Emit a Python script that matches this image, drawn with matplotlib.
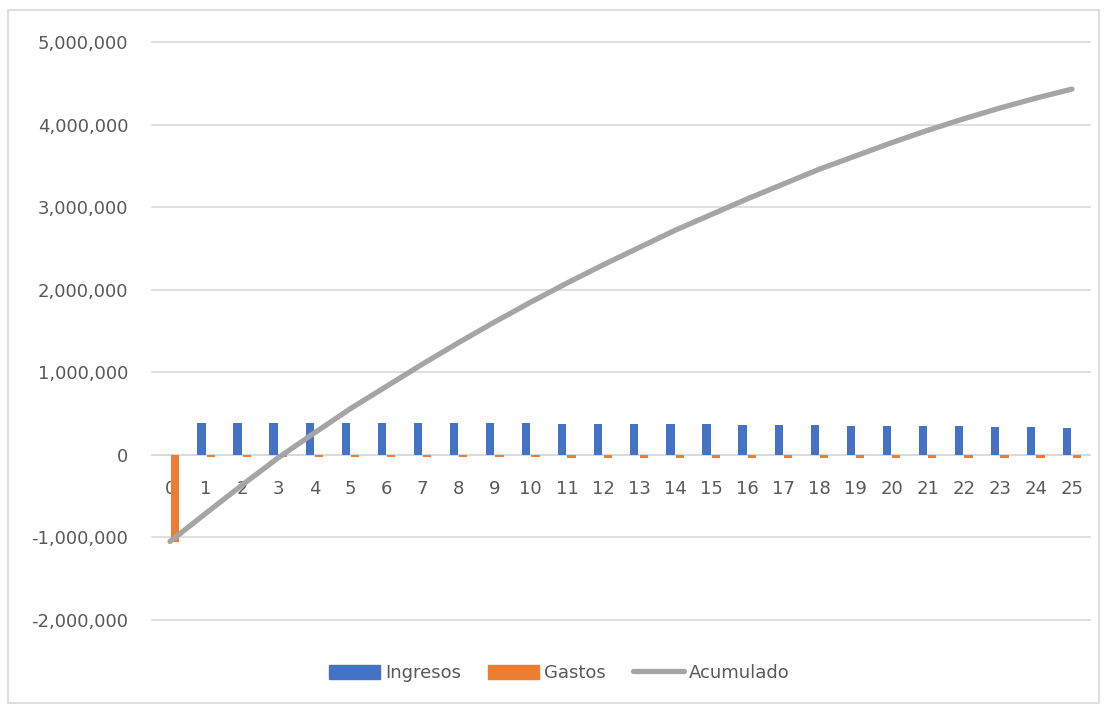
import matplotlib
matplotlib.use("Agg")
import matplotlib.pyplot as plt
from matplotlib.patches import Rectangle
from matplotlib.lines import Line2D
from matplotlib.ticker import FuncFormatter, MultipleLocator

years = list(range(26))
ingresos = [0, 385000, 385000, 385000, 384000, 384000, 383000, 382000, 382000, 381000,
            380000, 378000, 376000, 374000, 371000, 368000, 365000, 361000, 358000,
            355000, 352000, 348000, 344000, 340000, 336000, 331000]
gastos = [-1050000, -28000, -28000, -29000, -29000, -30000, -30000, -31000, -31000,
          -32000, -32000, -33000, -34000, -34000, -35000, -36000, -36000, -37000,
          -38000, -39000, -40000, -40000, -41000, -42000, -43000, -44000]
acumulado = [-1050000, -705000, -365000, -35000, 265000, 560000, 830000, 1100000,
             1360000, 1610000, 1850000, 2080000, 2300000, 2510000, 2720000, 2910000,
             3100000, 3280000, 3460000, 3620000, 3780000, 3930000, 4070000, 4200000,
             4320000, 4430000]
series_names = ["Ingresos", "Gastos", "Acumulado"]

C_BLUE = "#4472C4"
C_ORANGE = "#ED7D31"
C_GRAY = "#A5A5A5"
C_TEXT = "#595959"
C_GRID = "#D9D9D9"
FS = 13

plt.rcParams["font.family"] = ["DejaVu Sans"]
W, H = 1107, 705
fig = plt.figure(figsize=(W / 100, H / 100), dpi=100)

# outer chart border
fig.patches.append(Rectangle((8 / W, 1 - 703 / H), (1099 - 8) / W, (703 - 10) / H,
                             transform=fig.transFigure, fill=False,
                             edgecolor=C_GRID, linewidth=1.2))

left, right, top, bottom = 152, 1090, 42, 620
ax = fig.add_axes([left / W, 1 - bottom / H, (right - left) / W, (bottom - top) / H])

bw = 0.23
off = 0.13
ax.bar([x - off for x in years], ingresos, width=bw, color=C_BLUE, zorder=2)
ax.bar([x + off for x in years], gastos, width=bw, color=C_ORANGE, zorder=2)
ax.plot(years, acumulado, color=C_GRAY, linewidth=3.8, solid_capstyle="round", zorder=3)

ax.set_xlim(-0.5, 25.5)
ax.set_ylim(-2000000, 5000000)
ax.yaxis.set_major_locator(MultipleLocator(1000000))
ax.yaxis.set_major_formatter(FuncFormatter(lambda v, p: f"{v:,.0f}"))
ax.grid(axis="y", color=C_GRID, linewidth=1.2, zorder=0)
ax.set_axisbelow(True)
for gl in ax.get_ygridlines():
    gl.set_clip_on(False)

for s in ["top", "right", "left"]:
    ax.spines[s].set_visible(False)
ax.spines["bottom"].set_position(("data", 0))
ax.spines["bottom"].set_color(C_GRID)
ax.spines["bottom"].set_linewidth(1.2)
ax.spines["bottom"].set_zorder(1)

ax.set_xticks(years)
ax.set_xticklabels([str(y) for y in years])
ax.tick_params(axis="x", length=0, pad=18, labelsize=FS, labelcolor=C_TEXT)
ax.tick_params(axis="y", length=0, pad=17, labelsize=FS, labelcolor=C_TEXT)

handles = [Rectangle((0, 0), 1, 1, color=C_BLUE),
           Rectangle((0, 0), 1, 1, color=C_ORANGE),
           Line2D([0], [0], color=C_GRAY, linewidth=3.8, solid_capstyle="round")]
leg = fig.legend(handles, series_names, loc="center", bbox_to_anchor=(0.5054, 0.0454),
                 ncol=3, frameon=False, fontsize=FS, handlelength=2.8,
                 handleheight=0.8, handletextpad=0.3, columnspacing=1.5)
for t in leg.get_texts():
    t.set_color(C_TEXT)

fig.savefig("out.png", dpi=100)
